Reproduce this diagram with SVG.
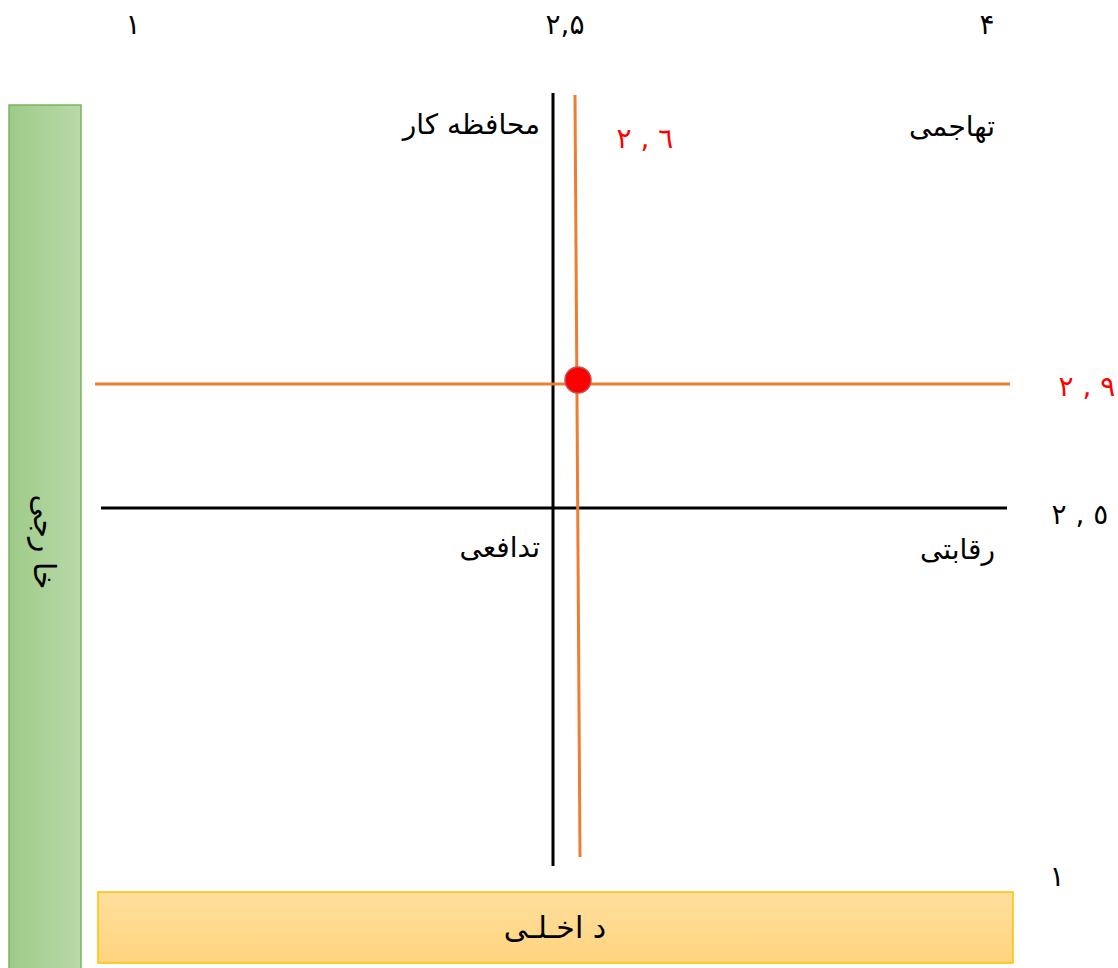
<svg xmlns="http://www.w3.org/2000/svg" width="1118" height="968" viewBox="0 0 1118 968">
<style>
.t{font-family:"DejaVu Sans","Noto Sans",sans-serif;font-size:28px;fill:#000}
.r{fill:#ff0000}
.ax{stroke:#000;stroke-width:3;fill:none}
.or{stroke:#ed7d31;stroke-width:3;fill:none}
</style>
<defs>
<linearGradient id="gG" x1="0" y1="0" x2="1" y2="0">
<stop offset="0" stop-color="#9ecb88"/>
<stop offset="1" stop-color="#b9d9a9"/>
</linearGradient>
<linearGradient id="gO" x1="0" y1="0" x2="0" y2="1">
<stop offset="0" stop-color="#ffdf9e"/>
<stop offset="1" stop-color="#ffd47e"/>
</linearGradient>
</defs>
<rect width="1118" height="968" fill="#fff"/>
<g id="external">
<rect x="9" y="105" width="72" height="870" fill="url(#gG)" stroke="#79b55c" stroke-width="1.5"/>
<text class="t" transform="translate(34,542) rotate(90)" text-anchor="middle" style="font-size:30px;letter-spacing:2px">خا رجی</text>
</g>
<g id="internal">
<rect x="98" y="892" width="915" height="71" fill="url(#gO)" stroke="#ffc000" stroke-width="1.5"/>
<text class="t" x="555" y="938" text-anchor="middle" style="font-size:30px">د اخـلـی</text>
</g>
<g id="connectors">
<line class="ax" x1="553" y1="93" x2="553" y2="866"/>
<line class="ax" x1="101" y1="508" x2="1007" y2="508"/>
<line class="or" x1="95" y1="384" x2="1010" y2="384"/>
<line class="or" x1="575" y1="95" x2="580" y2="857"/>
</g>
<g id="point">
<circle cx="578" cy="380" r="13" fill="#ff0000" stroke="#c0504d" stroke-width="1.5"/>
</g>
<g id="labels">
<text class="t" x="133" y="34" text-anchor="middle">۱</text>
<text class="t" x="565" y="34" text-anchor="middle">۲,۵</text>
<text class="t" x="987" y="34" text-anchor="middle">۴</text>
<text class="t" x="540" y="134" text-anchor="end">محافظه کار</text>
<text class="t" x="995" y="136" text-anchor="end">تهاجمی</text>
<text class="t r" x="645" y="148" text-anchor="middle">٦ , ٢</text>
<text class="t r" x="1087" y="396" text-anchor="middle">٩ , ٢</text>
<text class="t" x="1080" y="524" text-anchor="middle">٥ , ٢</text>
<text class="t" x="540" y="557" text-anchor="end">تدافعی</text>
<text class="t" x="995" y="559" text-anchor="end">رقابتی</text>
<text class="t" x="1057" y="886" text-anchor="middle">۱</text>
</g>
</svg>
